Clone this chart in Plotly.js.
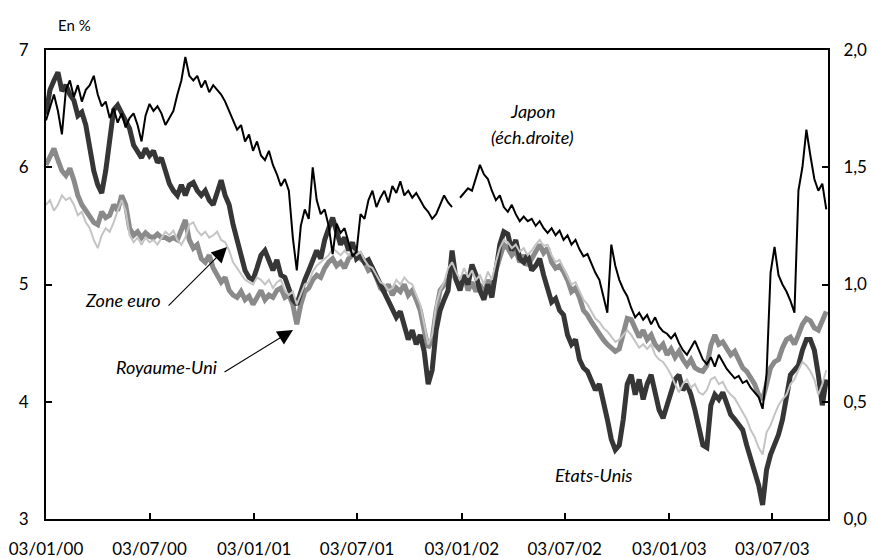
<!DOCTYPE html>
<html>
<head>
<meta charset="utf-8">
<script src="https://cdn.plot.ly/plotly-3.0.1.min.js"></script>
<style>html,body{margin:0;padding:0;background:#fff;}#chart{width:871px;height:558px;}</style>
</head>
<body>
<div id="chart"></div>
<script>
// Weekly observations starting on 03/01/2000
const START_DATE = '2000-01-03';
const STEP_DAYS = 7;

// Japon (right axis, %)
const japon = [
1.70,1.76,1.81,1.74,1.64,1.83,1.87,1.80,1.85,1.78,
1.83,1.85,1.89,1.81,1.76,1.78,1.71,1.75,1.69,1.73,
1.67,1.71,1.73,1.68,1.61,1.72,1.77,1.74,1.76,1.73,
1.68,1.71,1.74,1.81,1.87,1.97,1.89,1.87,1.89,1.84,
1.87,1.82,1.85,1.83,1.81,1.78,1.74,1.70,1.66,1.68,
1.61,1.64,1.57,1.61,1.55,1.53,1.57,1.51,1.47,1.42,
1.45,1.40,1.20,1.06,1.25,1.32,1.28,1.50,1.36,1.30,
1.32,1.25,1.13,1.26,1.22,1.24,1.18,1.12,1.14,1.30,
1.28,1.36,1.40,1.33,1.37,1.40,1.35,1.42,1.39,1.44,
1.38,1.40,1.37,1.39,1.36,1.33,1.31,1.28,1.30,1.34,
1.38,1.35,1.33,null,1.37,1.39,1.41,1.40,1.46,1.51,
1.47,1.45,1.40,1.36,1.38,1.33,1.31,1.34,1.30,1.27,
1.29,1.27,1.28,1.25,1.27,1.24,1.22,1.24,1.21,1.23,
1.19,1.21,1.17,1.19,1.15,1.12,1.13,1.09,1.05,1.02,
0.95,0.88,1.17,1.08,1.02,0.98,0.95,0.90,0.86,0.88,
0.85,0.87,0.83,0.86,0.82,0.80,0.79,0.77,0.79,0.75,
0.72,0.70,0.73,0.76,0.72,0.68,0.66,0.69,0.65,0.70,
0.67,0.64,0.62,0.60,0.61,0.58,0.59,0.56,0.54,0.52,
0.47,0.62,1.05,1.16,1.04,1.00,0.97,0.93,0.88,1.40,
1.50,1.66,1.55,1.45,1.40,1.43,1.32];

// Etats-Unis (left axis, %)
const etatsUnis = [
6.45,6.66,6.74,6.81,6.65,6.70,6.62,6.57,6.44,6.47,
6.36,6.15,5.97,5.85,5.78,5.97,6.23,6.49,6.53,6.47,
6.40,6.33,6.19,6.14,6.08,6.16,6.10,6.14,6.04,6.08,
5.96,5.86,5.80,5.76,5.85,5.76,5.85,5.87,5.80,5.76,
5.80,5.72,5.68,5.80,5.89,5.76,5.68,5.51,5.38,5.25,
5.12,5.06,5.04,5.14,5.25,5.29,5.19,5.12,5.21,5.08,
5.06,4.95,4.87,4.83,4.95,5.04,5.12,5.21,5.29,5.22,
5.38,5.48,5.57,5.45,5.34,5.40,5.29,5.36,5.22,5.25,
5.19,5.21,5.14,5.08,5.00,4.94,4.87,4.78,4.72,4.77,
4.63,4.53,4.61,4.49,4.57,4.43,4.15,4.27,4.61,4.78,
4.87,4.95,5.29,5.04,4.95,5.08,5.00,5.17,5.08,4.95,
4.87,5.00,4.89,5.12,5.34,5.45,5.43,5.29,5.38,5.22,
5.19,5.25,5.12,5.16,5.22,5.08,4.95,4.85,4.88,4.78,
4.74,4.57,4.49,4.53,4.36,4.29,4.26,4.19,4.10,4.15,
4.02,3.85,3.68,3.59,3.63,3.85,4.15,4.23,4.06,4.19,
4.02,4.15,4.23,4.06,3.93,3.86,3.97,4.10,4.19,4.23,
4.10,4.15,4.06,3.93,3.80,3.63,3.61,3.97,4.06,4.02,
4.08,3.97,3.89,3.85,3.80,3.76,3.63,3.51,3.42,3.29,
3.12,3.42,3.55,3.63,3.72,3.85,4.02,4.23,4.27,4.31,
4.44,4.53,4.53,4.44,4.23,3.97,4.19];

// Royaume-Uni (left axis, %)
const royaumeUni = [
6.02,6.10,6.16,6.06,5.97,5.93,5.99,5.89,5.76,5.68,
5.63,5.59,5.53,5.51,5.62,5.57,5.59,5.68,5.63,5.76,
5.68,5.48,5.42,5.45,5.40,5.44,5.41,5.40,5.43,5.40,
5.40,5.38,5.40,5.38,5.48,5.55,5.38,5.31,5.34,5.22,
5.19,5.25,5.14,5.08,5.02,5.06,4.95,4.91,4.89,4.94,
4.87,4.90,4.83,4.89,4.95,4.87,4.91,4.89,4.95,4.97,
4.89,4.91,4.83,4.66,4.83,4.94,4.97,5.04,5.08,5.06,
5.14,5.19,5.22,5.16,5.19,5.14,5.22,5.25,5.27,5.22,
5.19,5.12,5.14,5.06,4.97,4.94,5.00,4.91,4.97,4.94,
5.00,4.91,4.95,4.87,4.78,4.61,4.46,4.53,4.78,4.95,
5.00,5.04,5.11,5.04,4.97,5.08,4.95,5.02,4.94,5.00,
4.91,5.04,4.95,5.12,5.25,5.34,5.31,5.25,5.29,5.19,
5.25,5.16,5.22,5.29,5.34,5.27,5.31,5.19,5.14,5.16,
5.11,5.04,4.94,4.97,4.89,4.78,4.74,4.68,4.63,4.57,
4.53,4.49,4.46,4.43,4.45,4.57,4.71,4.70,4.61,4.55,
4.61,4.53,4.57,4.49,4.45,4.49,4.40,4.45,4.38,4.43,
4.36,4.31,4.36,4.29,4.27,4.26,4.31,4.48,4.57,4.49,
4.51,4.45,4.40,4.43,4.36,4.29,4.26,4.21,4.15,4.06,
4.02,4.15,4.29,4.34,4.36,4.46,4.53,4.55,4.49,4.57,
4.66,4.71,4.69,4.63,4.61,4.69,4.77];

// Zone euro (left axis, %)
const zoneEuro = [
5.68,5.72,5.63,5.68,5.76,5.72,5.74,5.68,5.59,5.62,
5.53,5.48,5.38,5.31,5.42,5.48,5.45,5.53,5.63,5.72,
5.63,5.42,5.36,5.40,5.34,5.40,5.36,5.38,5.34,5.40,
5.45,5.42,5.46,5.38,5.34,5.40,5.51,5.53,5.46,5.42,
5.45,5.40,5.42,5.45,5.38,5.36,5.29,5.19,5.14,5.08,
5.04,5.02,5.00,5.06,5.04,5.00,5.04,4.97,5.02,5.04,
4.95,4.91,4.94,4.83,4.91,5.00,5.02,5.11,5.16,5.19,
5.22,5.25,5.31,5.28,5.25,5.29,5.25,5.29,5.25,5.28,
5.21,5.16,5.14,5.08,5.02,5.00,4.95,4.97,5.04,5.00,
5.06,5.02,5.00,4.91,4.83,4.66,4.49,4.57,4.83,4.95,
5.02,5.14,5.19,5.11,5.04,5.14,5.06,5.12,5.04,5.08,
5.00,5.11,5.04,5.19,5.31,5.38,5.36,5.31,5.34,5.28,
5.31,5.25,5.29,5.34,5.38,5.33,5.34,5.25,5.19,5.21,
5.14,5.08,5.00,5.02,4.94,4.87,4.83,4.77,4.71,4.68,
4.63,4.60,4.55,4.51,4.53,4.57,4.61,4.57,4.51,4.46,
4.49,4.45,4.49,4.40,4.36,4.34,4.29,4.23,4.15,4.08,
4.15,4.19,4.12,4.15,4.08,4.06,4.10,4.19,4.21,4.15,
4.17,4.10,4.06,4.03,3.97,3.91,3.85,3.76,3.70,3.61,
3.55,3.74,3.80,3.89,3.97,4.02,4.06,4.15,4.19,4.27,
4.34,4.31,4.26,4.19,4.06,4.15,4.27];

// Axis ticks
const xTickVals = ['2000-01-03','2000-07-03','2001-01-03','2001-07-03','2002-01-03','2002-07-03','2003-01-03','2003-07-03'];
const xTickText = ['03/01/00','03/07/00','03/01/01','03/07/01','03/01/02','03/07/02','03/01/03','03/07/03'];
const yTickVals = [3,4,5,6,7];
const yTickText = ['3','4','5','6','7'];
const y2TickVals = [0,0.5,1,1.5,2];
const y2TickText = ['0,0','0,5','1,0','1,5','2,0'];

const dates = [];
const t0 = Date.parse(START_DATE + 'T00:00:00Z');
for (let i = 0; i < japon.length; i++) {
  dates.push(new Date(t0 + i * STEP_DAYS * 86400000).toISOString().slice(0, 10));
}

const FONT = 'Lato, "Open Sans", sans-serif';

const traces = [
  {x: dates, y: royaumeUni, name: 'Royaume-Uni', type: 'scatter', mode: 'lines',
   line: {color: '#8a8a8a', width: 5}, yaxis: 'y'},
  {x: dates, y: etatsUnis, name: 'Etats-Unis', type: 'scatter', mode: 'lines',
   line: {color: '#363636', width: 5}, yaxis: 'y'},
  {x: dates, y: zoneEuro, name: 'Zone euro', type: 'scatter', mode: 'lines',
   line: {color: '#c4c4c4', width: 2}, yaxis: 'y'},
  {x: dates, y: japon, name: 'Japon', type: 'scatter', mode: 'lines',
   line: {color: '#000000', width: 2}, yaxis: 'y2', connectgaps: false}
];

const italic = {family: FONT, size: 18, color: '#000', style: 'italic'};

const layout = {
  width: 871, height: 558,
  margin: {l: 46, r: 43, t: 50, b: 39},
  paper_bgcolor: '#fff', plot_bgcolor: '#fff',
  showlegend: false,
  font: {family: FONT, size: 17, color: '#000'},
  xaxis: {
    type: 'date', range: ['2000-01-03', '2003-10-09'],
    tickvals: xTickVals, ticktext: xTickText,
    ticks: 'inside', ticklen: 6, tickwidth: 2, tickcolor: '#000',
    showline: true, linewidth: 2, linecolor: '#000', mirror: true,
    showgrid: false, zeroline: false, ticklabelstandoff: 14,
    tickfont: {family: FONT, size: 17}
  },
  yaxis: {
    range: [3, 7], tickvals: yTickVals, ticktext: yTickText,
    ticks: 'inside', ticklen: 6, tickwidth: 2, tickcolor: '#000',
    showline: true, linewidth: 2, linecolor: '#000', mirror: true,
    showgrid: false, zeroline: false, ticklabelstandoff: 12,
    tickfont: {family: FONT, size: 17}
  },
  yaxis2: {
    range: [0, 2], tickvals: y2TickVals, ticktext: y2TickText,
    overlaying: 'y', side: 'right',
    ticks: 'inside', ticklen: 6, tickwidth: 2, tickcolor: '#000',
    showline: true, linewidth: 2, linecolor: '#000',
    showgrid: false, zeroline: false, ticklabelstandoff: 10,
    tickfont: {family: FONT, size: 17}
  },
  annotations: [
    {xref: 'paper', yref: 'paper', x: 0.037, y: 1.054, text: 'En %', showarrow: false,
     xanchor: 'center', yanchor: 'middle', font: {family: FONT, size: 15, color: '#000'}},
    {xref: 'paper', yref: 'paper', x: 0.6215, y: 0.871, text: 'Japon', showarrow: false,
     xanchor: 'center', yanchor: 'middle', font: italic},
    {xref: 'paper', yref: 'paper', x: 0.6215, y: 0.814, text: '(éch.droite)', showarrow: false,
     xanchor: 'center', yanchor: 'middle', font: italic},
    {xref: 'paper', yref: 'paper', x: 0.0985, y: 0.467, text: 'Zone euro', showarrow: false,
     xanchor: 'center', yanchor: 'middle', font: italic},
    {xref: 'paper', yref: 'paper', x: 0.1535, y: 0.3245, text: 'Royaume-Uni', showarrow: false,
     xanchor: 'center', yanchor: 'middle', font: italic},
    {xref: 'paper', yref: 'paper', x: 0.7008, y: 0.0947, text: 'Etats-Unis', showarrow: false,
     xanchor: 'center', yanchor: 'middle', font: italic},
    {xref: 'paper', yref: 'paper', x: 0.2315, y: 0.5798, text: '', showarrow: true,
     ax: -60, ay: 60, arrowhead: 2, arrowsize: 2.8, arrowwidth: 1.1, arrowcolor: '#000'},
    {xref: 'paper', yref: 'paper', x: 0.3159, y: 0.4032, text: '', showarrow: true,
     ax: -70, ay: 43, arrowhead: 2, arrowsize: 2.8, arrowwidth: 1.1, arrowcolor: '#000'}
  ]
};

Plotly.newPlot('chart', traces, layout, {displayModeBar: false, staticPlot: true});
</script>
</body>
</html>
